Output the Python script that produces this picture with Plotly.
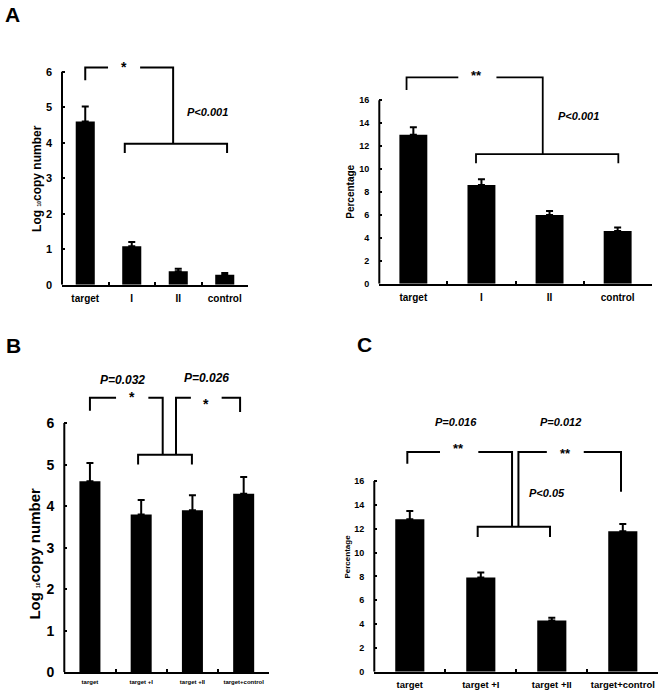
import plotly.graph_objects as go

W, H = 661, 697
FONT = "Liberation Sans, Arial, sans-serif"

# panel A (left): log10 copy number
a1_cats = ["target", "I", "II", "control"]
a1_vals = [4.6, 1.08, 0.38, 0.28]
a1_errs = [0.42, 0.12, 0.07, 0.05]

# panel A (right): percentage
a2_cats = ["target", "I", "II", "control"]
a2_vals = [13.0, 8.6, 6.0, 4.6]
a2_errs = [0.65, 0.5, 0.35, 0.3]

# panel B: log10 copy number
b_cats = ["target", "target +I", "target +II", "target+control"]
b_vals = [4.6, 3.8, 3.9, 4.3]
b_errs = [0.44, 0.35, 0.36, 0.4]

# panel C: percentage
c_cats = ["target", "target +I", "target +II", "target+control"]
c_vals = [12.8, 7.9, 4.3, 11.8]
c_errs = [0.7, 0.42, 0.22, 0.6]


def px_x(px):
    return px / W


def px_y(py):
    return 1 - py / H


# axis box per panel: x pixels of the axis, pixel of y=0, pixels per unit, range top
panels = {
    "1": dict(x0=62, x1=248, y0=288, ppu=35.9, ymax=6.4, ytop=6, dtick=1,
              tick=11, xtick=10),
    "2": dict(x0=379.3, x1=651.7, y0=287, ppu=11.6, ymax=18.6, ytop=16, dtick=2,
              tick=9, xtick=10),
    "3": dict(x0=64.3, x1=269.3, y0=680, ppu=42.0, ymax=6.9, ytop=6, dtick=1,
              tick=14, xtick=6),
    "4": dict(x0=374.3, x1=658.3, y0=679.5, ppu=12.05, ymax=19, ytop=16, dtick=2,
              tick=9, xtick=9.5),
}

series = {
    "1": (a1_cats, a1_vals, a1_errs),
    "2": (a2_cats, a2_vals, a2_errs),
    "3": (b_cats, b_vals, b_errs),
    "4": (c_cats, c_vals, c_errs),
}

fig = go.Figure()
layout = dict(width=W, height=H, margin=dict(l=0, r=0, t=0, b=0),
              plot_bgcolor="white", paper_bgcolor="white", showlegend=False,
              font=dict(family=FONT, color="black"))
shapes = []
annotations = []

for k, p in panels.items():
    cats, vals, errs = series[k]
    sfx = "" if k == "1" else k
    fig.add_trace(go.Bar(
        x=cats, y=vals, width=0.41,
        marker=dict(color="black", line=dict(width=0)),
        error_y=dict(type="data", array=errs, arrayminus=[0] * len(errs),
                     symmetric=False, color="black", thickness=2, width=3.5),
        xaxis="x" + sfx, yaxis="y" + sfx,
    ))
    layout["xaxis" + sfx] = dict(
        domain=[px_x(p["x0"]), px_x(p["x1"])], anchor="y" + sfx,
        range=[-0.5, 3.5], showline=True, linewidth=2, linecolor="black",
        ticks="inside", tickson="boundaries", ticklen=3, tickwidth=1.5,
        tickcolor="black", showgrid=False, zeroline=False, tickangle=0,
        tickfont=dict(size=p["xtick"], weight="bold", family=FONT),
        ticklabelstandoff=3,
    )
    layout["yaxis" + sfx] = dict(
        domain=[px_y(p["y0"]), px_y(p["y0"] - p["ymax"] * p["ppu"])],
        anchor="x" + sfx, range=[0, p["ymax"]], showline=False,
        tickmode="array", tickvals=list(range(0, p["ytop"] + 1, p["dtick"])),
        ticks="inside", ticklen=3, tickwidth=1.5, tickcolor="black",
        showgrid=False, zeroline=False, ticklabelstandoff=9,
        tickfont=dict(size=p["tick"], weight="bold", family=FONT),
    )
    # y axis line stops at the top tick
    shapes.append(dict(type="line", xref="x%s domain" % sfx, yref="y" + sfx,
                       x0=0, x1=0, y0=0, y1=p["ytop"],
                       line=dict(color="black", width=2)))


def bracket(sfx, pts, w=2):
    path = "M " + " L ".join("%s,%s" % (x, y) for x, y in pts)
    shapes.append(dict(type="path", xref="x" + sfx, yref="y" + sfx, path=path,
                       line=dict(color="black", width=w)))


def note(sfx, x, y, text, size, italic=True):
    # y given in data units, placed via the domain so it is never hidden
    ymax = panels[sfx or "1"]["ymax"]
    annotations.append(dict(xref="x" + sfx, yref="y%s domain" % sfx, x=x,
                            y=y / ymax, text=text, showarrow=False,
                            xanchor="center", yanchor="middle",
                            font=dict(size=size, family=FONT, weight="bold",
                                      style="italic" if italic else "normal")))


# panel A left
bracket("", [(0, 5.76), (0, 6.12), (0.49, 6.12)])
bracket("", [(1.18, 6.12), (1.89, 6.12), (1.89, 3.97)])
bracket("", [(0.85, 3.71), (0.85, 3.97), (3.05, 3.97), (3.05, 3.71)])
note("", 0.84, 6.14, "*", 14, italic=False)
note("", 2.62, 4.88, "P<0.001", 11)

# panel A right
bracket("2", [(-0.1, 16.9), (-0.1, 18.0), (0.66, 18.0)], 1.8)
bracket("2", [(1.22, 18.0), (1.9, 18.0), (1.9, 11.3)], 1.8)
bracket("2", [(0.92, 10.5), (0.92, 11.3), (3.01, 11.3), (3.01, 10.5)], 1.8)
note("2", 0.93, 18.2, "**", 13, italic=False)
note("2", 2.43, 14.6, "P<0.001", 11)

# panel B
bracket("3", [(0, 6.3), (0, 6.61), (0.51, 6.61)])
bracket("3", [(1.14, 6.61), (1.42, 6.61), (1.42, 5.24)])
bracket("3", [(1.68, 5.24), (1.68, 6.61), (1.97, 6.61)])
bracket("3", [(2.57, 6.61), (2.93, 6.61), (2.93, 6.27)])
bracket("3", [(0.94, 5.0), (0.94, 5.24), (1.99, 5.24), (1.99, 5.0)])
note("3", 0.815, 6.64, "*", 14, italic=False)
note("3", 2.265, 6.47, "*", 14, italic=False)
note("3", 0.64, 7.03, "P=0.032", 12)
note("3", 2.27, 7.09, "P=0.026", 12)

# panel C
bracket("4", [(-0.035, 17.45), (-0.035, 18.45), (0.425, 18.45)])
bracket("4", [(0.965, 18.45), (1.44, 18.45), (1.44, 12.16)])
bracket("4", [(1.53, 12.16), (1.53, 18.45), (1.93, 18.45)])
bracket("4", [(2.45, 18.45), (2.975, 18.45), (2.975, 15.1)])
bracket("4", [(0.956, 11.3), (0.956, 12.16), (1.975, 12.16), (1.975, 11.3)])
note("4", 0.683, 18.75, "**", 13, italic=False)
note("4", 2.186, 18.35, "**", 13, italic=False)
note("4", 0.644, 21.0, "P=0.016", 11)
note("4", 2.12, 21.0, "P=0.012", 11)
note("4", 1.93, 15.0, "P<0.05", 11)

# axis titles (the subscript 10 is tiny in the original)
log_title = "Log <span style='font-size:5px'>10</span>copy number"
for px, py, text, size in [
    (37, 181, log_title, 12),
    (351, 194, "Percentage", 10),
    (35, 560, log_title, 15),
    (348, 563, "Percentage", 8),
]:
    annotations.append(dict(xref="paper", yref="paper", x=px_x(px), y=px_y(py),
                            text=text, textangle=-90, showarrow=False,
                            xanchor="center", yanchor="middle",
                            font=dict(size=size, family=FONT, weight="bold")))

# panel letters
for px, py, text in [(12, 15, "A"), (13, 350, "B"), (364, 348, "C")]:
    annotations.append(dict(xref="paper", yref="paper", x=px_x(px), y=px_y(py),
                            text=text, showarrow=False,
                            xanchor="center", yanchor="middle",
                            font=dict(size=21, family=FONT, weight="bold")))

layout["shapes"] = shapes
layout["annotations"] = annotations
fig.update_layout(**layout)
fig.write_html(
    "out.html",
    config={"displayModeBar": False},
    post_script=(
        "document.body.style.margin='0';"
        "document.body.style.overflow='hidden';"
        "document.documentElement.style.overflow='hidden';"
    ),
)
